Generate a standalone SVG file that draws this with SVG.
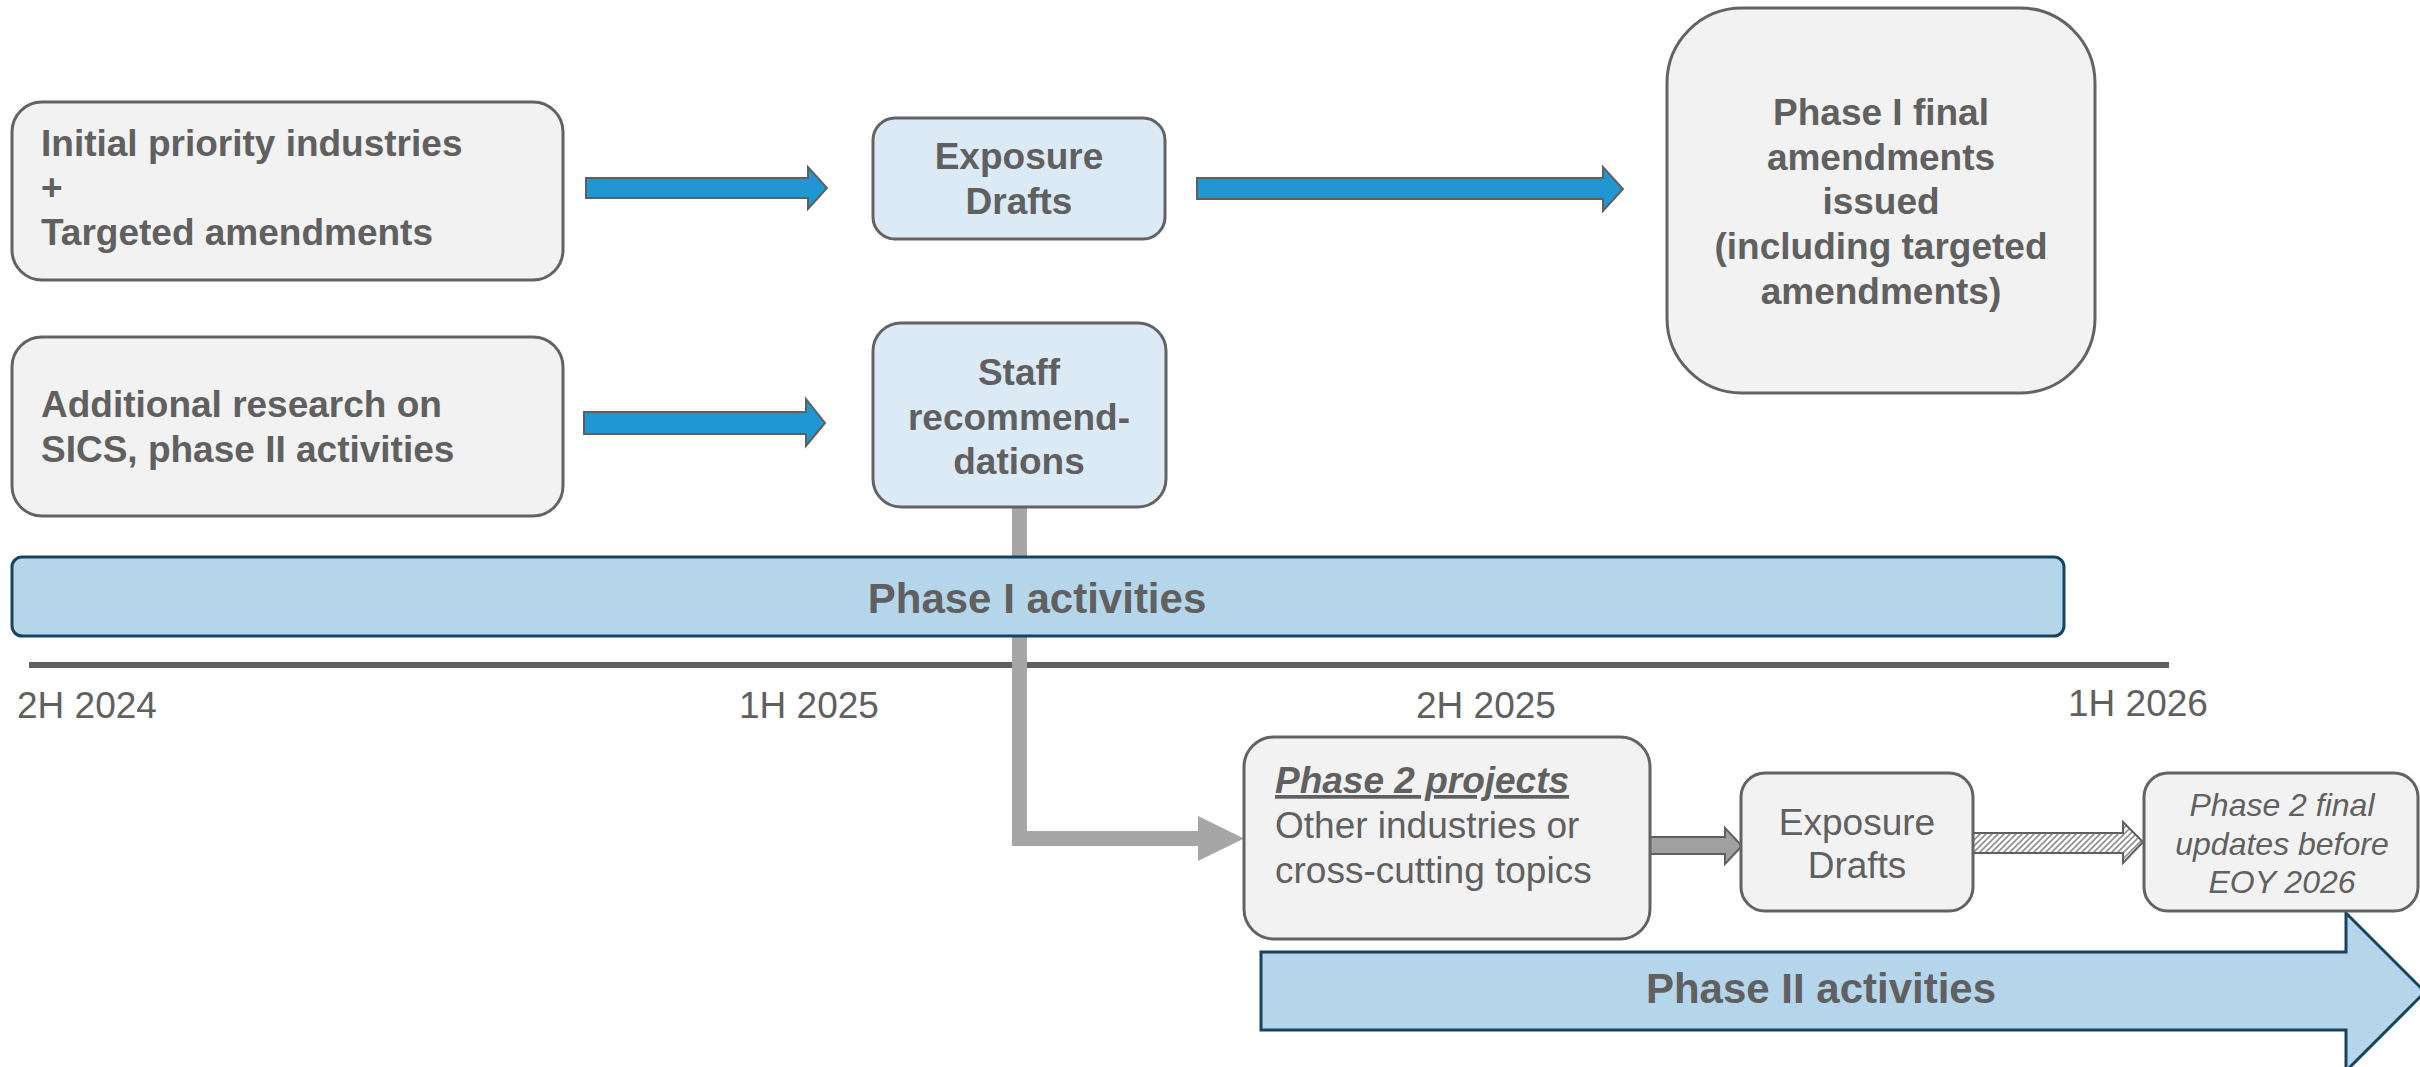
<svg xmlns="http://www.w3.org/2000/svg" width="2420" height="1067" viewBox="0 0 2420 1067">
<defs>
<pattern id="hatch" patternUnits="userSpaceOnUse" width="6" height="6">
<rect width="6" height="6" fill="#ffffff"/>
<path d="M0,6 L6,0 M-1,1 L1,-1 M5,7 L7,5" stroke="#8f8f8f" stroke-width="1.6"/>
</pattern>
<style>
.box{fill:#f2f2f2;stroke:#636363;stroke-width:3}
.bbox{fill:#dceaf5;stroke:#636363;stroke-width:3}
.band{fill:#b5d6ea;stroke:#17435f;stroke-width:3}
.t{font-family:"Liberation Sans",Arial,sans-serif;fill:#606060}
.b{font-weight:bold;font-size:37px}
.r{font-size:37px}
.c{text-anchor:middle}
.blue{fill:#2097d3;stroke:#5f5f5f;stroke-width:2}
</style>
</defs>
<rect width="2420" height="1067" fill="#ffffff"/>
<g id="timeline">
<rect x="29" y="662" width="2140" height="6" fill="#606060"/>
<text class="t r" x="17" y="718">2H 2024</text>
<text class="t r c" x="809" y="718">1H 2025</text>
<text class="t r c" x="1486" y="718">2H 2025</text>
<text class="t r c" x="2138" y="716">1H 2026</text>
</g>
<g id="connectors">
<polygon class="blue" points="586,178 808,178 808,167 827,188 808,209 808,198 586,198"/>
<polygon class="blue" points="584,412 806,412 806,399 825,423 806,446 806,434 584,434"/>
<polygon class="blue" points="1197,178 1603,178 1603,167 1623,189 1603,211 1603,199 1197,199"/>
<path d="M1012,507 L1027,507 L1027,831 L1198,831 L1198,816 L1244,838.5 L1198,861 L1198,846 L1012,846 Z" fill="#a6a6a6"/>
<polygon points="1649,837 1725,837 1725,828 1742,846 1725,864 1725,854 1649,854" fill="#a0a0a0" stroke="#5f5f5f" stroke-width="2"/>
<polygon points="1972,833 2123,833 2123,822 2143,842 2123,863 2123,853 1972,853" fill="url(#hatch)" stroke="#5f5f5f" stroke-width="2"/>
</g>
<g id="phase1-band">
<rect class="band" x="12" y="557" width="2052" height="79" rx="10"/>
<text class="t c" x="1037" y="613" font-size="42" font-weight="bold">Phase I activities</text>
</g>
<g id="phase2-band">
<polygon class="band" points="1261,952 2346,952 2346,913 2425,992 2346,1071 2346,1030 1261,1030"/>
<text class="t c" x="1821" y="1003" font-size="42" font-weight="bold">Phase II activities</text>
</g>
<g id="initial">
<rect class="box" x="12" y="102" width="551" height="178" rx="30"/>
<text class="t b" x="41" y="156">Initial priority industries</text>
<text class="t b" x="41" y="200">+</text>
<text class="t b" x="41" y="245">Targeted amendments</text>
</g>
<g id="research">
<rect class="box" x="12" y="337" width="551" height="179" rx="30"/>
<text class="t b" x="41" y="417">Additional research on</text>
<text class="t b" x="41" y="462">SICS, phase II activities</text>
</g>
<g id="exposure1">
<rect class="bbox" x="873" y="118" width="292" height="121" rx="22"/>
<text class="t b c" x="1019" y="169">Exposure</text>
<text class="t b c" x="1019" y="214">Drafts</text>
</g>
<g id="staff">
<rect class="bbox" x="873" y="323" width="293" height="184" rx="28"/>
<text class="t b c" x="1019" y="385">Staff</text>
<text class="t b c" x="1019" y="430">recommend-</text>
<text class="t b c" x="1019" y="474">dations</text>
</g>
<g id="final1">
<rect class="box" x="1667" y="8" width="428" height="385" rx="75"/>
<text class="t b c" x="1881" y="125">Phase I final</text>
<text class="t b c" x="1881" y="170">amendments</text>
<text class="t b c" x="1881" y="214">issued</text>
<text class="t b c" x="1881" y="259">(including targeted</text>
<text class="t b c" x="1881" y="304">amendments)</text>
</g>
<g id="phase2">
<rect class="box" x="1244" y="737" width="406" height="202" rx="30"/>
<text class="t" x="1275" y="793" font-size="37" font-weight="bold" font-style="italic" text-decoration="underline">Phase 2 projects</text>
<text class="t r" x="1275" y="838">Other industries or</text>
<text class="t r" x="1275" y="883">cross-cutting topics</text>
</g>
<g id="exposure2">
<rect class="box" x="1741" y="773" width="232" height="138" rx="24"/>
<text class="t r c" x="1857" y="835">Exposure</text>
<text class="t r c" x="1857" y="878">Drafts</text>
</g>
<g id="final2">
<rect class="box" x="2144" y="773" width="274" height="138" rx="24"/>
<text class="t c" x="2282" y="816" font-size="32" font-style="italic">Phase 2 final</text>
<text class="t c" x="2282" y="855" font-size="32" font-style="italic">updates before</text>
<text class="t c" x="2282" y="893" font-size="32" font-style="italic">EOY 2026</text>
</g>
</svg>
